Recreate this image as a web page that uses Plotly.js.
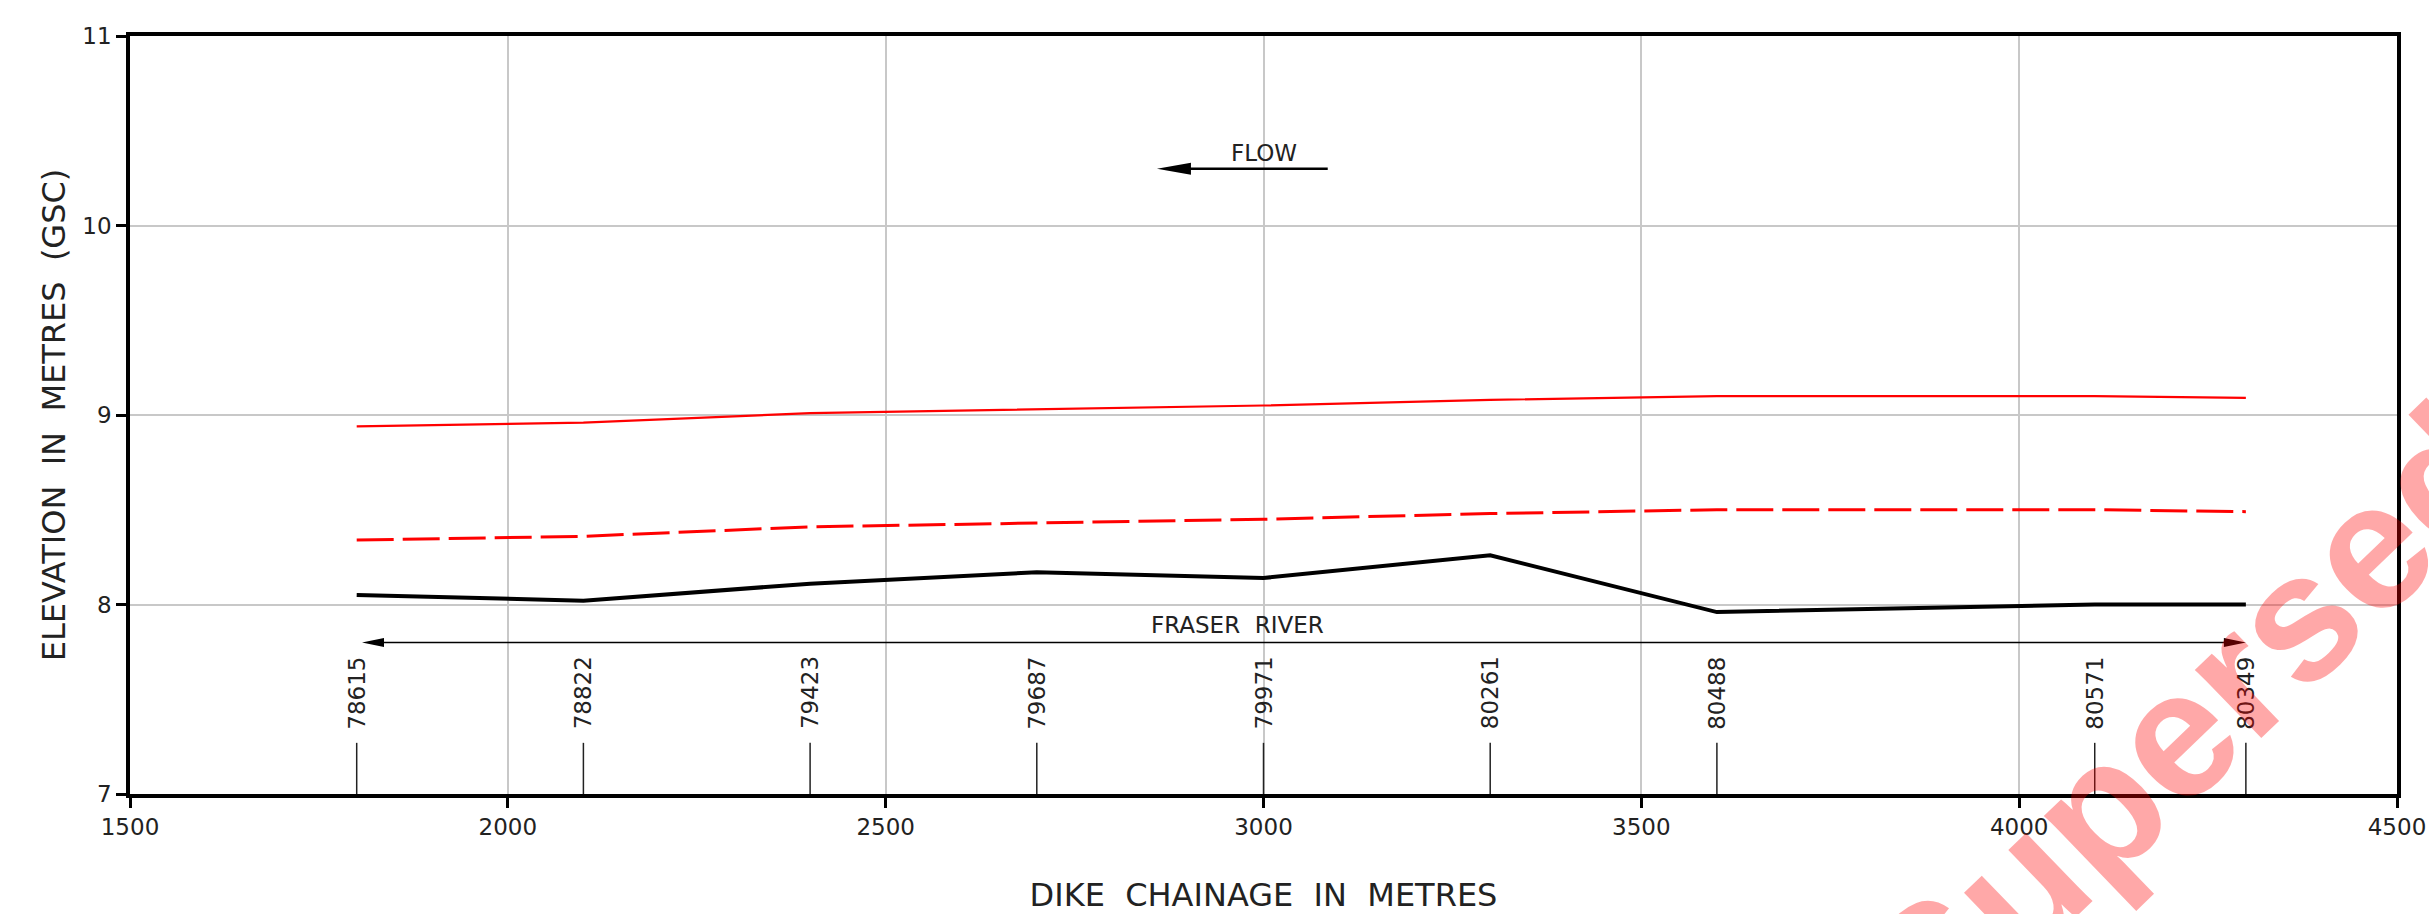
<!DOCTYPE html>
<html>
<head>
<meta charset="utf-8">
<script src="https://cdn.plot.ly/plotly-3.0.1.min.js"></script>
<style>
  html, body { margin: 0; padding: 0; background: #fff; }
  #chart { width: 2429px; height: 914px; }
</style>
</head>
<body>
<div id="chart"></div>
<script>
// Dike profile along the Fraser River: chainage (m) against elevation (m, GSC datum)
const chainage = [1800, 2100, 2400, 2700, 3000, 3300, 3600, 4100, 4300];
const stationLabels = ['78615', '78822', '79423', '79687', '79971', '80261', '80488', '80571', '80349'];
const designCrest = [8.94, 8.96, 9.01, 9.03, 9.05, 9.08, 9.10, 9.10, 9.09];
const floodProfile = [8.34, 8.36, 8.41, 8.43, 8.45, 8.48, 8.50, 8.50, 8.49];
const existingCrest = [8.05, 8.02, 8.11, 8.17, 8.14, 8.26, 7.96, 8.00, 8.00];
const xTicks = [1500, 2000, 2500, 3000, 3500, 4000, 4500];
const yTicks = [7, 8, 9, 10, 11];

// Callouts: flow direction and river extent (chainage / elevation)
const flowArrow = { from: 3085, to: 2859, y: 10.30, label: 'FLOW', labelX: 3000, labelY: 10.38 };
const riverArrow = { from: 1807, to: 4300, y: 7.80, label: 'FRASER  RIVER', labelX: 2965, labelY: 7.89 };
const stationTickTop = 7.27;
const stationLabelBase = 7.33;

const FONT = 'DejaVu Sans';
const INK = '#222';

const traces = [
  { x: chainage, y: designCrest, mode: 'lines', line: { color: '#ff0000', width: 2.2 }, hoverinfo: 'x+y' },
  { x: chainage, y: floodProfile, mode: 'lines', line: { color: '#ff0000', width: 3, dash: '37px,9px' }, hoverinfo: 'x+y' },
  { x: chainage, y: existingCrest, mode: 'lines', line: { color: '#000000', width: 4 }, hoverinfo: 'x+y' }
];

// small vertical station markers rising from the bottom axis
const shapes = chainage.map(c => ({
  type: 'line', xref: 'x', yref: 'y', x0: c, x1: c, y0: 7, y1: stationTickTop,
  line: { color: INK, width: 1.5 }
}));

// filled arrowhead drawn in pixels, tip at (x, y), pointing left (dir=-1) or right (dir=1)
function arrowHead(x, y, dir, len, half) {
  const b = -dir * len;
  return {
    type: 'path', xref: 'x', yref: 'y', xsizemode: 'pixel', ysizemode: 'pixel',
    xanchor: x, yanchor: y,
    path: `M0,0 L${b},${half} L${b},${-half} Z`,
    fillcolor: '#000', line: { width: 0 }
  };
}

shapes.push({ type: 'line', xref: 'x', yref: 'y', x0: flowArrow.from, x1: flowArrow.to + 40, y0: flowArrow.y, y1: flowArrow.y, line: { color: '#000', width: 2.5 } });
shapes.push(arrowHead(flowArrow.to, flowArrow.y, -1, 34, 6));

shapes.push({ type: 'line', xref: 'x', yref: 'y', x0: riverArrow.from + 10, x1: riverArrow.to - 10, y0: riverArrow.y, y1: riverArrow.y, line: { color: '#000', width: 1.5 } });
shapes.push(arrowHead(riverArrow.from, riverArrow.y, -1, 22, 4.5));
shapes.push(arrowHead(riverArrow.to, riverArrow.y, 1, 22, 4.5));

const annotations = chainage.map((c, i) => ({
  x: c, y: stationLabelBase, xref: 'x', yref: 'y',
  text: stationLabels[i], textangle: -90, showarrow: false,
  xanchor: 'center', yanchor: 'bottom',
  font: { family: FONT, size: 23, color: INK }
}));

annotations.push({
  x: flowArrow.labelX, y: flowArrow.labelY, xref: 'x', yref: 'y', text: flowArrow.label,
  showarrow: false, xanchor: 'center', yanchor: 'middle', font: { family: FONT, size: 23, color: INK }
});
annotations.push({
  x: riverArrow.labelX, y: riverArrow.labelY, xref: 'x', yref: 'y', text: riverArrow.label,
  showarrow: false, xanchor: 'center', yanchor: 'middle', font: { family: FONT, size: 23, color: INK }
});

// status stamp across the lower right corner
annotations.push({
  x: 0.941, y: 0.19, xref: 'paper', yref: 'paper', text: 'Superseded',
  showarrow: false, textangle: -44, xanchor: 'center', yanchor: 'middle',
  font: { family: 'Liberation Sans', size: 180, weight: 'bold', color: 'rgba(255,0,0,0.34)' }
});

const axisCommon = {
  showgrid: true, gridcolor: '#c8c8c8', gridwidth: 1.5,
  showline: true, mirror: true, linecolor: '#000', linewidth: 3.5,
  ticks: 'outside', ticklen: 10, tickwidth: 3, tickcolor: '#000',
  zeroline: false, tickfont: { family: FONT, size: 23, color: INK }
};

const layout = {
  width: 2429, height: 914,
  margin: { l: 130, r: 32, t: 36, b: 120, autoexpand: false },
  paper_bgcolor: '#ffffff', plot_bgcolor: '#ffffff',
  showlegend: false,
  font: { family: FONT, color: INK },
  xaxis: Object.assign({}, axisCommon, {
    range: [1500, 4500], tickmode: 'array', tickvals: xTicks, ticktext: xTicks.map(String),
    title: { text: 'DIKE  CHAINAGE  IN  METRES', font: { family: FONT, size: 32, color: INK }, standoff: 48 }
  }),
  yaxis: Object.assign({}, axisCommon, {
    range: [7, 11], tickmode: 'array', tickvals: yTicks, ticktext: yTicks.map(String),
    title: { text: 'ELEVATION  IN  METRES  (GSC)', font: { family: FONT, size: 32, color: INK }, standoff: 8 }
  }),
  shapes: shapes,
  annotations: annotations
};

Plotly.newPlot('chart', traces, layout, { displayModeBar: false, responsive: false });
</script>
</body>
</html>
